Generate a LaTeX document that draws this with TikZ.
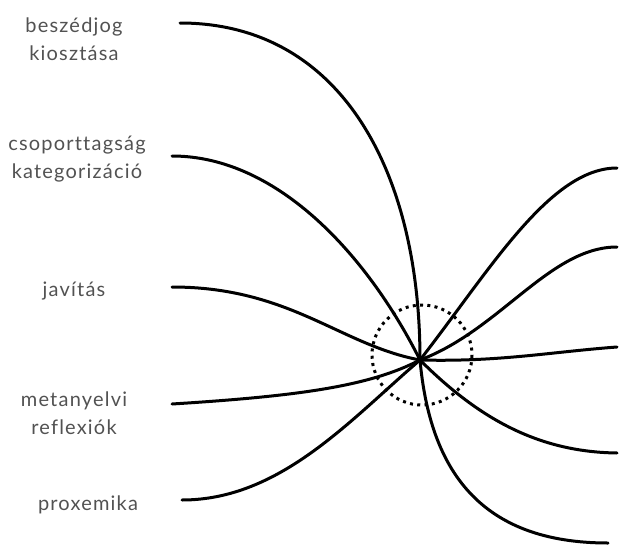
\documentclass[tikz,border=0pt]{standalone}
\usepackage{fontspec}
\setmainfont{Lato}[LetterSpace=6, Ligatures=NoCommon]
\usetikzlibrary{positioning}

\tikzset{
  label/.style={align=center, text=black!68, font=\fontsize{20}{28}\selectfont, inner sep=0pt},
  strand/.style={line width=3pt, line cap=round},
  ring/.style={line width=3pt, dash pattern=on 3pt off 4.3pt}
}

\begin{document}
\begin{tikzpicture}[x=1pt, y=-1pt]
        \useasboundingbox (0,0) rectangle (619,546);
        % Left labels
        \node[label] (beszed) at (74,39) {beszédjog\\kiosztása};
        \node[label] (csoport) at (77,159) {csoporttagság\\kategorizáció};
        \node[label] (javitas) at (74,291) {javítás};
        \node[label] (meta) at (74,413) {metanyelvi\\reflexiók};
        \node[label] (prox) at (88,505) {proxemika};
        % Meeting point and ring
        \coordinate (hub) at (420,360);
        \draw[ring] (422,355) circle (50);
        % Left ends
        \coordinate (l1) at (180,23);
        \coordinate (l2) at (172,156);
        \coordinate (l3) at (172,287);
        \coordinate (l4) at (172,404);
        \coordinate (l5) at (182,500);
        % Right ends
        \coordinate (r1) at (617,168);
        \coordinate (r2) at (617,247);
        \coordinate (r3) at (617,347);
        \coordinate (r4) at (617,453);
        \coordinate (r5) at (608,543);
        % Strands into the hub
        \draw[strand] (l1) .. controls (340,23) and (420,170) .. (hub);
        \draw[strand] (l2) .. controls (280,156) and (370,260) .. (hub);
        \draw[strand] (l3) .. controls (290,287) and (340,345) .. (hub);
        \draw[strand] (l4) .. controls (300,396) and (370,386) .. (hub);
        \draw[strand] (l5) .. controls (280,500) and (350,420) .. (hub);
        % Strands out of the hub
        \draw[strand] (hub) .. controls (490,270) and (550,168) .. (r1);
        \draw[strand] (hub) .. controls (500,330) and (550,247) .. (r2);
        \draw[strand] (hub) .. controls (500,362) and (550,352) .. (r3);
        \draw[strand] (hub) .. controls (480,420) and (540,452) .. (r4);
        \draw[strand] (hub) .. controls (430,470) and (480,543) .. (r5);
      \end{tikzpicture}
\end{document}
